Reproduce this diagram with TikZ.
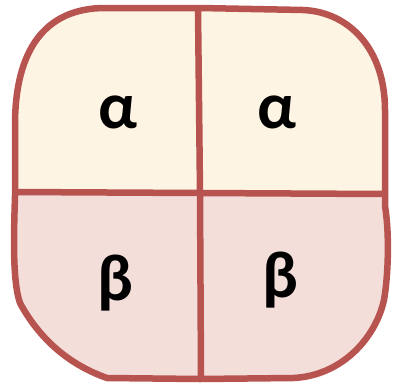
\documentclass[tikz,border=0pt]{standalone}
\usepackage{fontspec}
\setmainfont{Carlito}
\definecolor{edge}{HTML}{B85450}
\definecolor{topfill}{HTML}{FEF4E4}
\definecolor{botfill}{HTML}{F3DEDA}
\tikzset{
  wall/.style={draw=edge, line width=6.5pt, line join=round, line cap=round},
  letter/.style={font=\bfseries\fontsize{66}{66}\selectfont, text=black, inner sep=0pt}
}
\begin{document}
\begin{tikzpicture}[x=1pt,y=-1pt]
\useasboundingbox (0,0) rectangle (393,386);
\def\blob{(15,125) .. controls (15,50) and (45,8) .. (105,8)
  -- (200,8) -- (303,10)
  .. controls (350,12) and (385,50) .. (385,110)
  -- (385,206)
  .. controls (389,230) and (389,270) .. (384,300)
  .. controls (375,340) and (340,376) .. (293,378)
  -- (200,379) -- (107,378)
  .. controls (70,365) and (40,340) .. (20,303)
  .. controls (12,280) and (14,230) .. (15,196) -- cycle}
\begin{scope}
  \clip \blob;
  \fill[topfill] (0,0) rectangle (393,193);
  \fill[botfill] (0,193) rectangle (393,386);
\end{scope}
\coordinate (vt) at (198,10);
\coordinate (vm) at (200,193);
\coordinate (vb) at (201,377);
\coordinate (hl) at (16,192);
\coordinate (hr) at (383,194);
\draw[wall] (vt) -- (vm) -- (vb);
\draw[wall] (hl) -- (vm) -- (hr);
\draw[wall] \blob;
\node[letter] (a1) at (118,112) {α};
\node[letter] (a2) at (277,112) {α};
\node[letter] (b1) at (115,283) {β};
\node[letter] (b2) at (280,280) {β};
\end{tikzpicture}
\end{document}
